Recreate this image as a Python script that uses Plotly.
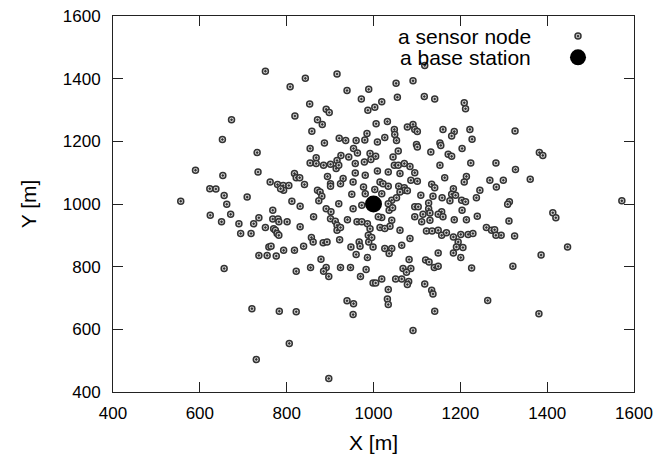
import plotly.graph_objects as go

# sensor nodes (X [m], Y [m])
node_x = [
    673, 652,
    751, 843, 808, 916, 939, 989, 972, 853, 987, 891, 898, 819, 871, 882, 858, 985, 887, 921, 936, 960, 980,
    1118, 1052, 1091, 1055, 1117, 1141, 1209, 1212, 1019, 1003, 1006, 1032, 1048, 1049, 1053, 1026, 1009,
    1078, 1091, 1095, 1101, 1160, 1186, 1180, 1222, 1227, 1099, 1153,
    1326,
    590, 653, 623, 637, 656, 556, 662, 624, 671, 650, 690, 694, 656,
    732, 854, 954, 963, 925, 943, 854, 868, 868, 885, 901, 916, 914, 920, 958, 979,
    734, 818, 822, 830, 894, 930, 958, 981, 762, 779, 792, 805, 841, 793, 786, 901, 924, 953, 901, 871, 877,
    950, 981, 977, 709, 881, 874, 812, 831, 920, 953, 973, 768, 891, 902, 862, 736, 768, 780, 782, 801, 901,
    912, 940, 962, 986, 724, 751, 770, 831, 916, 916, 924, 973, 718, 774, 778, 782, 857, 884, 893, 922, 967,
    989, 861, 759, 764, 793, 818, 839, 948, 969, 736, 755, 776, 960, 986, 879, 855, 891, 924, 947,
    992, 1005, 994, 1045, 1057, 1101, 1155, 1132, 1172, 1180, 1204, 1153, 1224, 1048, 1057, 1071, 1084,
    1009, 1034, 1061, 1095, 1164, 1214, 1209, 1086, 1101, 1015, 1022, 1034, 1058, 1071, 1072, 1078, 1134,
    1141, 1184, 1003, 1019, 1268, 1283, 1109, 1137, 1158, 1180, 1189, 1203, 1212, 1237, 1245, 1127, 1176,
    1042, 1034, 1053, 1061, 1095, 1103, 1127, 1157, 1149, 1036, 1044, 1130, 1114, 1160, 1204, 1019, 1042,
    1038, 1015, 992, 1011, 1095, 1111, 1130, 1186, 1214, 1239, 1260, 1272, 1279, 988, 996, 1026, 1061, 1122,
    1135, 1149, 1157, 1168, 1184, 1201, 1218, 1229, 1084, 1195, 1191, 1206, 1065, 999, 1026, 1042, 1036,
    1149, 1184, 1201, 1082, 1120, 1128, 1068, 1086, 1140, 1149,
    1282, 1382, 1390, 1327, 1299, 1361, 1313, 1309, 1572, 1413, 1420, 1312, 1294, 1282, 1325, 1447, 1386, 1321,
    822, 885, 897, 970, 983, 720, 783, 822, 939, 954, 953, 806, 730, 897,
    1076, 1226, 999, 1005, 1019, 1051, 1065, 1081, 1078, 1118, 1134, 1137, 1034, 1032, 1034, 1263, 1141, 1091,
    1381,
]
node_y = [
    1269, 1206,
    1424, 1401, 1374, 1415, 1362, 1366, 1335, 1319, 1299, 1302, 1292, 1281, 1269, 1254, 1232, 1225, 1195, 1210, 1203, 1203, 1204,
    1442, 1385, 1393, 1341, 1343, 1335, 1323, 1304, 1326, 1309, 1256, 1263, 1238, 1222, 1203, 1212, 1198,
    1246, 1254, 1238, 1231, 1238, 1231, 1217, 1238, 1207, 1190, 1195,
    1233,
    1108, 1091, 1049, 1048, 1027, 1009, 999, 964, 967, 943, 937, 906, 794,
    1164, 1177, 1177, 1163, 1155, 1150, 1131, 1148, 1129, 1124, 1127, 1139, 1113, 1124, 1129, 1134,
    1102, 1097, 1084, 1084, 1088, 1081, 1099, 1092, 1070, 1062, 1059, 1059, 1062, 1044, 1049, 1065, 1065, 1070, 1057, 1044, 1038,
    1031, 1033, 1054, 1022, 1025, 1010, 1009, 993, 1001, 985, 996, 980, 985, 975, 959, 956, 952, 952, 943, 943, 953,
    945, 950, 943, 937, 937, 925, 921, 927, 932, 916, 925, 943, 906, 916, 906, 900, 893, 876, 879, 886, 879,
    879, 879, 863, 865, 852, 852, 865, 863, 865, 836, 836, 834, 839, 829, 824, 797, 797, 797, 797,
    1161, 1152, 1142, 1150, 1169, 1182, 1187, 1166, 1159, 1152, 1177, 1124, 1131, 1124, 1124, 1129, 1120,
    1105, 1102, 1097, 1100, 1084, 1088, 1070, 1076, 1073, 1070, 1065, 1057, 1057, 1052, 1044, 1042, 1063,
    1052, 1049, 1046, 1033, 1076, 1054, 1028, 1025, 1020, 1031, 1028, 1012, 1007, 1020, 1044, 1003, 1010,
    1012, 1001, 1020, 1038, 991, 991, 985, 975, 967, 980, 988, 971, 967, 959, 980, 957, 948,
    929, 925, 921, 959, 959, 943, 948, 950, 950, 961, 925, 916, 918, 900, 893, 922, 916, 914,
    914, 916, 900, 908, 895, 903, 903, 906, 890, 879, 863, 861, 868, 863, 858, 858, 842,
    844, 844, 829, 823, 821, 815, 794, 794, 797, 801,
    1131, 1164, 1155, 1110, 1076, 1079, 1007, 999, 1010, 972, 956, 946, 900, 900, 898, 863, 837, 801,
    785, 785, 769, 769, 791, 666, 658, 656, 691, 682, 647, 555, 504, 443,
    782, 796, 748, 748, 761, 761, 761, 753, 743, 745, 725, 713, 727, 697, 679, 692, 658, 596,
    650,
]

# base station
bs_x = [1000]
bs_y = [1000]

legend_labels = ["a sensor node", "a base station"]
x_ticks = [400, 600, 800, 1000, 1200, 1400, 1600]
y_ticks = [400, 600, 800, 1000, 1200, 1400, 1600]

FONT = "Liberation Sans, Arial, sans-serif"

fig = go.Figure()
fig.add_trace(go.Scatter(
    x=node_x, y=node_y, mode="markers", name=" ",
    marker=dict(symbol="circle-dot", size=6, color="#d6d6d6",
                line=dict(color="#333333", width=1.5)),
))
fig.add_trace(go.Scatter(
    x=bs_x, y=bs_y, mode="markers", name=" ",
    marker=dict(symbol="circle", size=17, color="black",
                line=dict(color="black", width=0)),
))

axis_common = dict(
    showgrid=False, zeroline=False, showline=True, linecolor="#222", linewidth=1,
    mirror="ticks", ticks="inside", ticklen=10, tickcolor="#222", tickwidth=1,
    tickfont=dict(family=FONT, size=17, color="black"), ticklabeloverflow="allow",
)
fig.update_xaxes(range=[400, 1600], tickvals=x_ticks, ticklabelstandoff=6,
                 title=dict(text="X [m]", font=dict(family=FONT, size=21, color="black"), standoff=12),
                 **axis_common)
fig.update_yaxes(range=[400, 1600], tickvals=y_ticks, ticklabelstandoff=8,
                 title=dict(text="Y [m]", font=dict(family=FONT, size=21, color="black"), standoff=20),
                 **axis_common)

for i, lab in enumerate(legend_labels):
    fig.add_annotation(xref="paper", yref="paper", x=(533 - 113) / 521, y=1 - (37 + 21 * i - 16) / 376,
                       xanchor="right", yanchor="middle", text=lab, showarrow=False,
                       font=dict(family=FONT, size=21, color="black"))

# the page body adds an 8 px offset, so the figure is 8 px smaller and margins shifted
fig.update_layout(
    width=654, height=456,
    margin=dict(l=105, r=28, t=8, b=72, autoexpand=False),
    paper_bgcolor="white", plot_bgcolor="white",
    showlegend=True,
    legend=dict(x=(558 - 113) / 521, y=0.988, xanchor="left", yanchor="top",
                bgcolor="rgba(0,0,0,0)", font=dict(family=FONT, size=14),
                itemsizing="trace", tracegroupgap=0),
)

fig.write_html("out.html")
